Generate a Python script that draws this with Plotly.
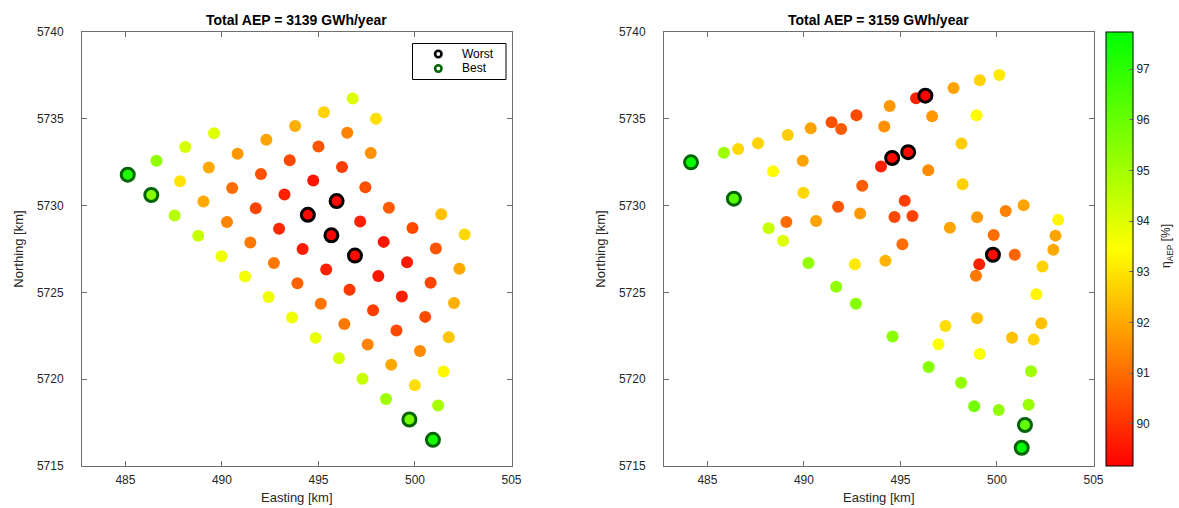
import numpy as np
import plotly.graph_objects as go

# ---- Layout A: regular grid (Total AEP = 3139 GWh/year) ----
east_a = [485.12, 486.61, 488.10, 489.59,
          486.34, 487.83, 489.32, 490.81, 492.30, 493.79, 495.28, 496.77,
          487.55, 489.04, 490.53, 492.02, 493.51, 495.00, 496.49, 497.98,
          488.77, 490.26, 491.75, 493.24, 494.73, 496.22, 497.71,
          489.98, 491.47, 492.96, 494.45, 495.94, 497.43,
          491.20, 492.69, 494.18, 495.67, 497.16, 498.65,
          492.42, 493.91, 495.40, 496.89, 498.38, 499.87, 501.36,
          493.63, 495.12, 496.61, 498.10, 499.59, 501.08, 502.57,
          494.85, 496.34, 497.83, 499.32, 500.81, 502.30,
          496.06, 497.55, 499.04, 500.53, 502.02,
          497.28, 498.77, 500.26, 501.75,
          498.50, 499.99, 501.48,
          499.71, 501.20,
          500.93]
north_a = [5731.78, 5732.58, 5733.37, 5734.17,
           5730.61, 5731.40, 5732.20, 5732.99, 5733.79, 5734.58, 5735.38, 5736.17,
           5729.43, 5730.23, 5731.02, 5731.82, 5732.61, 5733.41, 5734.20, 5735.00,
           5728.26, 5729.05, 5729.85, 5730.64, 5731.44, 5732.23, 5733.03,
           5727.08, 5727.88, 5728.67, 5729.47, 5730.26, 5731.06,
           5725.91, 5726.70, 5727.50, 5728.29, 5729.09, 5729.88,
           5724.73, 5725.53, 5726.32, 5727.12, 5727.91, 5728.71, 5729.50,
           5723.56, 5724.35, 5725.15, 5725.94, 5726.74, 5727.53, 5728.33,
           5722.38, 5723.18, 5723.97, 5724.77, 5725.56, 5726.36,
           5721.21, 5722.00, 5722.80, 5723.59, 5724.39,
           5720.03, 5720.83, 5721.62, 5722.42,
           5718.86, 5719.65, 5720.45,
           5717.68, 5718.48,
           5716.51]
eta_a = [97.2, 95.3, 94.1, 94.0,
         95.5, 93.0, 92.0, 91.7, 91.9, 92.1, 92.7, 94.0,
         94.7, 92.0, 91.0, 90.5, 90.4, 90.6, 91.35, 92.9,
         94.4, 91.4, 90.3, 89.7, 89.5, 90.2, 91.6,
         93.7, 91.2, 89.8, 89.3, 89.25, 90.5,
         93.6, 91.2, 89.6, 89.17, 89.7, 90.7,
         93.7, 90.8, 89.7, 89.35, 89.5, 90.4, 92.4,
         93.7, 91.1, 90.1, 89.5, 89.6, 90.6, 92.8,
         93.8, 91.2, 90.2, 89.7, 90.3, 92.0,
         94.1, 91.35, 90.4, 90.4, 92.1,
         94.4, 92.0, 91.5, 92.5,
         95.1, 92.9, 93.3,
         95.8, 94.9,
         97.4]

# ---- Layout B: optimised positions (Total AEP = 3159 GWh/year) ----
east_b = [484.15, 485.85, 486.59, 487.62, 489.16, 490.35, 491.43, 491.93, 492.72, 494.44,
          494.16, 489.94, 488.40, 486.37, 489.97, 493.02, 493.99, 494.57, 491.77, 492.91,
          489.09, 490.63, 488.17, 488.92, 490.23, 492.64, 494.22, 496.29, 495.81, 497.75,
          499.11, 500.12, 496.64, 498.94, 498.16, 495.40, 496.44, 498.22, 495.22, 494.69,
          495.62, 497.56, 498.97, 500.45, 501.38, 503.17, 503.03, 502.92, 499.83, 495.10,
          499.79, 500.92, 499.08, 502.36, 498.91, 502.04, 498.97, 497.33, 502.30, 494.59,
          496.97, 500.78, 501.90, 499.11, 496.46, 501.76, 498.14, 498.82, 500.09, 501.64,
          501.45, 501.28, 491.67, 492.69]
north_b = [5732.49, 5733.05, 5733.26, 5733.59, 5734.07, 5734.45, 5734.80, 5734.41, 5735.20, 5735.74,
           5734.56, 5732.59, 5731.98, 5730.40, 5730.74, 5731.15, 5732.25, 5732.74, 5729.94, 5729.54,
           5729.06, 5729.11, 5728.69, 5727.98, 5726.69, 5726.62, 5726.82, 5736.33, 5736.18, 5736.77,
           5737.22, 5737.52, 5735.14, 5735.20, 5733.57, 5733.08, 5732.04, 5731.23, 5730.28, 5729.34,
           5729.40, 5728.73, 5729.33, 5729.69, 5730.02, 5729.19, 5728.27, 5727.46, 5728.31, 5727.78,
           5727.17, 5727.17, 5726.62, 5726.49, 5725.96, 5724.89, 5723.51, 5723.06, 5723.22, 5722.46,
           5722.01, 5722.39, 5722.28, 5721.45, 5720.70, 5720.46, 5719.80, 5718.44, 5718.23, 5718.53,
           5717.36, 5716.05, 5725.33, 5724.35]
eta_b = [97.6, 95.1, 92.8, 92.7, 92.6, 91.9, 90.5, 90.7, 90.4, 91.7,
         91.6, 91.9, 93.4, 96.3, 92.8, 90.7, 89.7, 89.3, 90.6, 91.7,
         91.0, 91.9, 94.4, 94.0, 95.3, 93.1, 92.2, 89.2, 89.7, 91.9,
         92.7, 93.1, 91.7, 93.4, 92.6, 89.3, 91.5, 92.7, 90.2, 90.4,
         90.3, 91.9, 91.7, 91.35, 91.9, 93.3, 91.9, 92.0, 91.0, 91.0,
         89.35, 90.85, 89.7, 92.7, 91.2, 93.3, 92.4, 92.9, 92.4, 95.4,
         93.5, 92.4, 92.7, 93.5, 95.5, 95.1, 95.3, 95.8, 95.3, 95.2,
         96.1, 97.73, 95.3, 95.5]

total_aep = [3139, 3159]
x_ticks = [485, 490, 495, 500, 505]
y_ticks = [5715, 5720, 5725, 5730, 5735, 5740]
cbar_ticks = [90, 91, 92, 93, 94, 95, 96, 97]
legend_names = ["Worst", "Best"]
n_marked = 4

all_eta = np.array(eta_a + eta_b)
cmin, cmax = float(all_eta.min()), float(all_eta.max())

W, H = 1179, 508
AXIS_GREY = "rgb(38,38,38)"
LINE_GREY = "rgb(110,110,110)"
WORST_EDGE = "black"
BEST_EDGE = "rgb(0,100,0)"
FONT = "Liberation Sans, Arial, Helvetica, sans-serif"


def px(x):
    return x / W


def py(y):
    return 1 - y / H


fig = go.Figure()


def add_layout_traces(east, north, eta, xa, ya):
    east, north, eta = np.array(east), np.array(north), np.array(eta)
    order = np.argsort(eta)
    worst, best = order[:n_marked], order[-n_marked:]
    fig.add_trace(go.Scatter(
        x=east, y=north, mode="markers", xaxis=xa, yaxis=ya, showlegend=False,
        marker=dict(size=12, color=eta, coloraxis="coloraxis", line=dict(width=0)),
        hovertemplate="%{x:.2f}, %{y:.2f}<extra></extra>"))
    for idx, edge in ((worst, WORST_EDGE), (best, BEST_EDGE)):
        fig.add_trace(go.Scatter(
            x=east[idx], y=north[idx], mode="markers", xaxis=xa, yaxis=ya, showlegend=False,
            marker=dict(size=13, color=eta[idx], coloraxis="coloraxis",
                        line=dict(width=3, color=edge)),
            hoverinfo="skip"))


add_layout_traces(east_a, north_a, eta_a, "x", "y")
add_layout_traces(east_b, north_b, eta_b, "x2", "y2")

x_dom_l = [px(82), px(511.5)]
x_dom_r = [px(664), px(1093.5)]
y_dom = [py(466), py(32)]

axis_common = dict(
    showline=True, linecolor=LINE_GREY, linewidth=1, mirror="allticks",
    ticks="inside", ticklen=5, tickcolor=LINE_GREY, showgrid=False, zeroline=False,
    tickfont=dict(family=FONT, size=12, color=AXIS_GREY),
)
x_common = dict(range=[482.75, 505], tickvals=x_ticks, ticklabelstandoff=3,
                title=dict(text="Easting [km]", standoff=6,
                           font=dict(family=FONT, size=13, color=AXIS_GREY)), **axis_common)
y_common = dict(range=[5715, 5740], tickvals=y_ticks, ticklabelstandoff=15,
                title=dict(text="Northing [km]", standoff=10,
                           font=dict(family=FONT, size=13, color=AXIS_GREY)), **axis_common)

fig.update_layout(
    width=W, height=H, margin=dict(l=0, r=0, t=0, b=0, autoexpand=False),
    paper_bgcolor="white", plot_bgcolor="white", showlegend=False,
    font=dict(family=FONT, size=12, color=AXIS_GREY),
    xaxis=dict(domain=x_dom_l, anchor="y", **x_common),
    yaxis=dict(domain=y_dom, anchor="x", **y_common),
    xaxis2=dict(domain=x_dom_r, anchor="y2", **x_common),
    yaxis2=dict(domain=y_dom, anchor="x2", **y_common),
    coloraxis=dict(
        cmin=cmin, cmax=cmax,
        colorscale=[[0.0, "rgb(255,0,0)"], [0.5, "rgb(255,255,0)"], [1.0, "rgb(0,255,0)"]],
        colorbar=dict(
            x=px(1106), xanchor="left", y=py(249), yanchor="middle",
            len=434 / H, lenmode="fraction", thickness=27, thicknessmode="pixels",
            xpad=0, ypad=0, outlinecolor="black", outlinewidth=1,
            ticks="inside", ticklen=4, tickcolor=LINE_GREY, tickvals=cbar_ticks,
            tickfont=dict(family=FONT, size=12, color=AXIS_GREY),
        ),
    ),
)

# colour bar label
fig.add_annotation(x=px(1167), y=py(246), xref="paper", yref="paper",
                   text="η<sub>AEP</sub> [%]", textangle=-90, showarrow=False,
                   xanchor="center", yanchor="middle",
                   font=dict(family=FONT, size=12, color=AXIS_GREY))

# legend box with open-circle keys for the highlighted turbines
fig.add_shape(type="rect", xref="paper", yref="paper",
              x0=px(412.5), x1=px(506), y0=py(79.5), y1=py(43.5),
              line=dict(color="black", width=1), fillcolor="white", layer="above")
for k, (name, edge) in enumerate(zip(legend_names, (WORST_EDGE, BEST_EDGE))):
    cy = 54 + 14.5 * k
    fig.add_shape(type="circle", xref="paper", yref="paper",
                  x0=px(438.3 - 3.2), x1=px(438.3 + 3.2), y0=py(cy + 3.2), y1=py(cy - 3.2),
                  line=dict(color=edge, width=2.6), fillcolor="white", layer="above")
    fig.add_annotation(x=px(460), y=py(cy), xref="paper", yref="paper", text=name,
                       showarrow=False, xanchor="left", yanchor="middle",
                       font=dict(family=FONT, size=12, color="black"))

# panel titles
for dom, aep in ((x_dom_l, total_aep[0]), (x_dom_r, total_aep[1])):
    fig.add_annotation(
        x=(dom[0] + dom[1]) / 2, y=py(20), xref="paper", yref="paper",
        text=f"<b>Total AEP = {aep} GWh/year</b>", showarrow=False,
        font=dict(family=FONT, size=14, color="black"), xanchor="center", yanchor="middle")

fig.write_html("out.html")
